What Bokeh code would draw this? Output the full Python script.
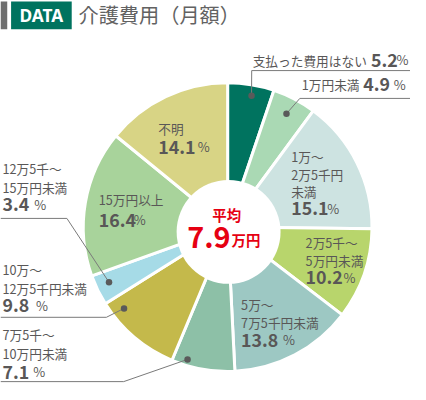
import math
from bokeh.plotting import figure
from bokeh.models import Range1d
from bokeh.core.properties import value
from bokeh.embed import file_html
from bokeh.resources import INLINE

# ---------------- data ----------------
title_text = "介護費用（月額）"
badge_text = "DATA"
categories = ["支払った費用はない", "1万円未満", "1万〜2万5千円未満", "2万5千〜5万円未満",
              "5万〜7万5千円未満", "7万5千〜10万円未満", "10万〜12万5千円未満",
              "12万5千〜15万円未満", "15万円以上", "不明"]
shares = [5.2, 4.9, 15.1, 10.2, 13.8, 7.1, 9.8, 3.4, 16.4, 14.1]
colors = ["#00735f", "#aad9b4", "#cde3e1", "#b8d56c", "#9dc8c3",
          "#8dc0a7", "#c4b94b", "#a6dbe7", "#a8d39b", "#d8d485"]
average_label = "平均"
average_value = "7.9"
average_unit = "万円"
label_lines = [["支払った費用はない"], ["1万円未満"], ["1万〜", "2万5千円", "未満"],
               ["2万5千〜", "5万円未満"], ["5万〜", "7万5千円未満"], ["7万5千〜", "10万円未満"],
               ["10万〜", "12万5千円未満"], ["12万5千〜", "15万円未満"], ["15万円以上"], ["不明"]]

# ---------------- layout (reference pixel coords, y downwards) ----------------
W, H = 426, 400
PW, PH = 410, 384
F = PH / H
CX, CY, R = 236, 236, 150
HOLE = (237, 241, 54)
# label x, first line y, line step, pct x, pct y, "%" x
lay = [
    (262, 62, 0, 385, 62, 411.5),
    (313, 88, 0, 377, 88, 408.5),
    (302, 163, 18, 302, 217, 339.5),
    (317, 252, 18.5, 317, 289, 356.5),
    (250, 317, 18.5, 250, 354, 293.5),
    (2, 348, 20, 2, 387, 34),
    (2, 280, 20, 2, 318, 37),
    (2, 175, 20, 2, 213, 35),
    (102, 207, 0, 102, 229, 138.5),
    (164, 133, 0, 164, 153, 205),
]
# leader lines: slice index, fraction within slice, radius, elbow, end
leaders = [
    (0, 0.55, 139, (261, 73), (426, 73)),
    (1, 0.49, 133, (311, 102), (426, 102)),
    (7, 0.575, 136, (69, 227), (0, 227)),
    (6, 0.825, 137, (110, 330), (0, 330)),
    (5, 0.77, 144, (128, 397), (0, 397)),
]

TXT = "#595757"
FONT = value("Noto Sans CJK JP")


def Y(v):
    return H - v


def fs(v):
    return f"{v * F:.1f}px"


p = figure(width=PW, height=PH, x_range=Range1d(0, W), y_range=Range1d(0, H),
           output_backend="svg", toolbar_location=None, min_border=0)
p.axis.visible = False
p.grid.visible = False
p.outline_line_color = None
p.background_fill_color = "white"
p.border_fill_color = "white"

# header
p.quad(left=[0], right=[7], top=[Y(1)], bottom=[Y(30)], fill_color="#6e6e6e", line_color=None)
p.quad(left=[11], right=[74], top=[Y(1)], bottom=[Y(30)], fill_color="#00735f", line_color=None)
p.text(x=[42.5], y=[Y(16)], text=[badge_text], text_font=value("Noto Sans"), text_font_style="bold",
       text_font_size=fs(18), text_color="white", text_align="center", text_baseline="middle")
p.text(x=[81], y=[Y(15)], text=[title_text], text_font=FONT, text_font_size=fs(21),
       text_color="#626262", text_align="left", text_baseline="middle")

# pie
total = sum(shares)
starts, ends = [], []
cum = 0.0
for v in shares:
    starts.append(math.pi / 2 - 2 * math.pi * cum / total)
    cum += v
    ends.append(math.pi / 2 - 2 * math.pi * cum / total)
p.wedge(x=CX, y=Y(CY), radius=R, start_angle=starts, end_angle=ends, direction="clock",
        fill_color=colors, line_color="white", line_width=3)
p.circle(x=[HOLE[0]], y=[Y(HOLE[1])], radius=HOLE[2], fill_color="white", line_color=None)

# leaders
lx, ly, dx, dy = [], [], [], []
for idx, frac, rr, elbow, end in leaders:
    a = starts[idx] + (ends[idx] - starts[idx]) * frac
    px_ = CX + rr * math.cos(a)
    py_ = Y(CY) + rr * math.sin(a)
    dx.append(px_)
    dy.append(py_)
    lx.append([px_, elbow[0], end[0]])
    ly.append([py_, Y(elbow[1]), Y(end[1])])
p.multi_line(xs=lx, ys=ly, line_color="#7a7a7a", line_width=1)
p.scatter(x=dx, y=dy, size=6.5, fill_color="#5a5a5a", line_color=None)

# labels
tx, ty, tt = [], [], []
nx, ny, nt = [], [], []
sx, sy = [], []
for i, lines in enumerate(label_lines):
    x0, y0, step, px0, py0, sx0 = lay[i]
    for j, s in enumerate(lines):
        tx.append(x0)
        ty.append(Y(y0 + j * step))
        tt.append(s)
    nx.append(px0)
    ny.append(Y(py0))
    nt.append(f"{shares[i]:.1f}")
    sx.append(sx0)
    sy.append(Y(py0 - 0.5))
p.text(x=tx, y=ty, text=tt, text_font=FONT, text_font_size=fs(13.2), text_color=TXT,
       text_baseline="middle", text_align="left")
p.text(x=nx, y=ny, text=nt, text_font=FONT, text_font_size=fs(18.5), text_font_style="bold",
       text_color=TXT, text_baseline="middle", text_align="left")
p.text(x=sx, y=sy, text=["%"] * len(sx), text_font=FONT, text_font_size=fs(13.5),
       text_color=TXT, text_baseline="middle", text_align="left")

# centre average
RED = "#e60012"
p.text(x=[235], y=[Y(223)], text=[average_label], text_font=FONT, text_font_size=fs(15),
       text_font_style="bold", text_color=RED, text_align="center", text_baseline="middle")
p.text(x=[239], y=[Y(247)], text=[average_value], text_font=FONT, text_font_size=fs(30),
       text_font_style="bold", text_color=RED, text_align="right", text_baseline="middle")
p.text(x=[240], y=[Y(249)], text=[average_unit], text_font=FONT, text_font_size=fs(15),
       text_font_style="bold", text_color=RED, text_align="left", text_baseline="middle")

open("out.html", "w").write(file_html(p, INLINE))
